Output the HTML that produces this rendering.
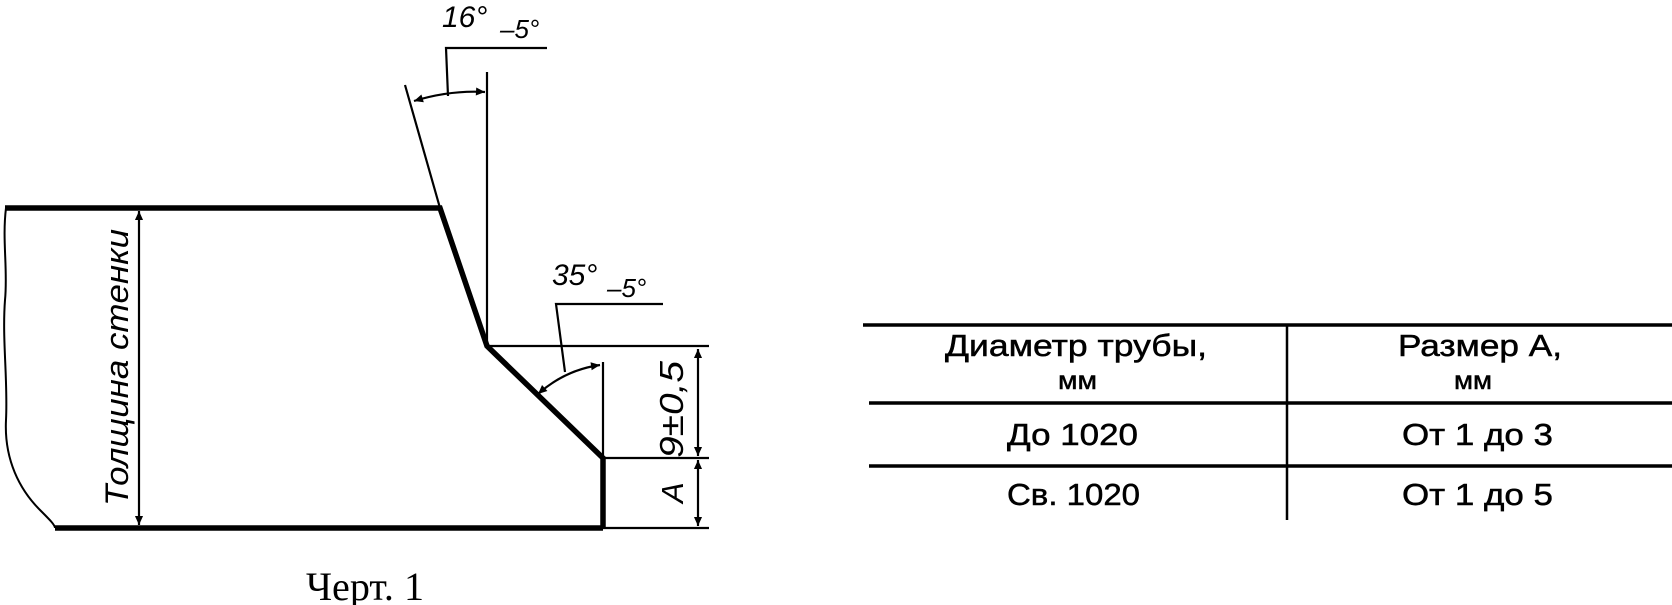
<!DOCTYPE html>
<html><head><meta charset="utf-8"><style>
html,body{margin:0;padding:0;background:#fff;}
svg{display:block}
text{font-family:"Liberation Sans","DejaVu Sans",sans-serif;fill:#000}
.it{font-style:italic}
.tb text{stroke:#000;stroke-width:0.5}
</style></head><body>
<svg width="1672" height="605" viewBox="0 0 1672 605" xmlns="http://www.w3.org/2000/svg">
<defs>
<marker id="ar" viewBox="0 0 10 10" refX="10" refY="5" markerWidth="20" markerHeight="9" markerUnits="userSpaceOnUse" orient="auto-start-reverse">
<path d="M0,0.5 L10,5 L0,9.5 z" fill="#000"/></marker>
</defs>
<g stroke="#000" fill="none">
<path d="M5,208 L440,208 L487,346 L603,458 L603,528 M55,528 L603,528" stroke-width="5.5"/>
<path d="M6,208 C2,240 8,270 5,300 C2,340 8,380 6,420 C4,460 20,490 40,510 C50,520 55,525 55,528" stroke-width="2"/>
<path d="M405,85 L440,208 M487,72 L487,346 M487,346 L709,346 M603,458 L709,458 M603,362 L603,458 M603,528 L709,528" stroke-width="2.2"/>
<path d="M139,211 L139,525" stroke-width="2.2" marker-start="url(#ar)" marker-end="url(#ar)"/>
<path d="M698,349 L698,456" stroke-width="2.2" marker-start="url(#ar)" marker-end="url(#ar)"/>
<path d="M698,460 L698,526" stroke-width="2.2" marker-start="url(#ar)" marker-end="url(#ar)"/>
<path d="M414,101 Q450,90 485,92" stroke-width="2.2" marker-start="url(#ar)" marker-end="url(#ar)"/>
<path d="M448,96 L446,48 L547,48" stroke-width="2.2"/>
<path d="M538,394 Q565,370 600,365" stroke-width="2.2" marker-start="url(#ar)" marker-end="url(#ar)"/>
<path d="M565,372 L556,304 L663,304" stroke-width="2.2"/>
<path d="M863,325 L1672,325 M869,403 L1672,403 M869,466 L1672,466" stroke-width="3.5"/>
<path d="M1287,325 L1287,520" stroke-width="2.5"/>
</g>
<text class="it" x="442" y="27" font-size="30">16°</text>
<text class="it" x="500" y="38" font-size="26">–5°</text>
<text class="it" x="552" y="285" font-size="30">35°</text>
<text class="it" x="607" y="297" font-size="26">–5°</text>
<text class="it" font-size="33" textLength="97" lengthAdjust="spacingAndGlyphs" transform="translate(683,458) rotate(-90)">9±0,5</text>
<text class="it" font-size="31" transform="translate(683,503) rotate(-90)">A</text>
<text class="it" font-size="32" textLength="277" lengthAdjust="spacingAndGlyphs" transform="translate(128,506) rotate(-90)">Толщина стенки</text>
<text x="306" y="600" font-size="40" textLength="118" lengthAdjust="spacingAndGlyphs" style="font-family:'Liberation Serif',serif">Черт. 1</text>
<g class="tb">
<text x="945" y="356" font-size="31" textLength="262" lengthAdjust="spacingAndGlyphs">Диаметр трубы,</text>
<text x="1058" y="389" font-size="25" textLength="39" lengthAdjust="spacingAndGlyphs">мм</text>
<text x="1398" y="356" font-size="31" textLength="164" lengthAdjust="spacingAndGlyphs">Размер А,</text>
<text x="1454" y="389" font-size="25" textLength="38" lengthAdjust="spacingAndGlyphs">мм</text>
<text x="1007" y="445" font-size="31" textLength="131" lengthAdjust="spacingAndGlyphs">До 1020</text>
<text x="1402" y="445" font-size="31" textLength="151" lengthAdjust="spacingAndGlyphs">От 1 до 3</text>
<text x="1007" y="505" font-size="31" textLength="133" lengthAdjust="spacingAndGlyphs">Св. 1020</text>
<text x="1402" y="505" font-size="31" textLength="151" lengthAdjust="spacingAndGlyphs">От 1 до 5</text>
</g>
</svg>
</body></html>
